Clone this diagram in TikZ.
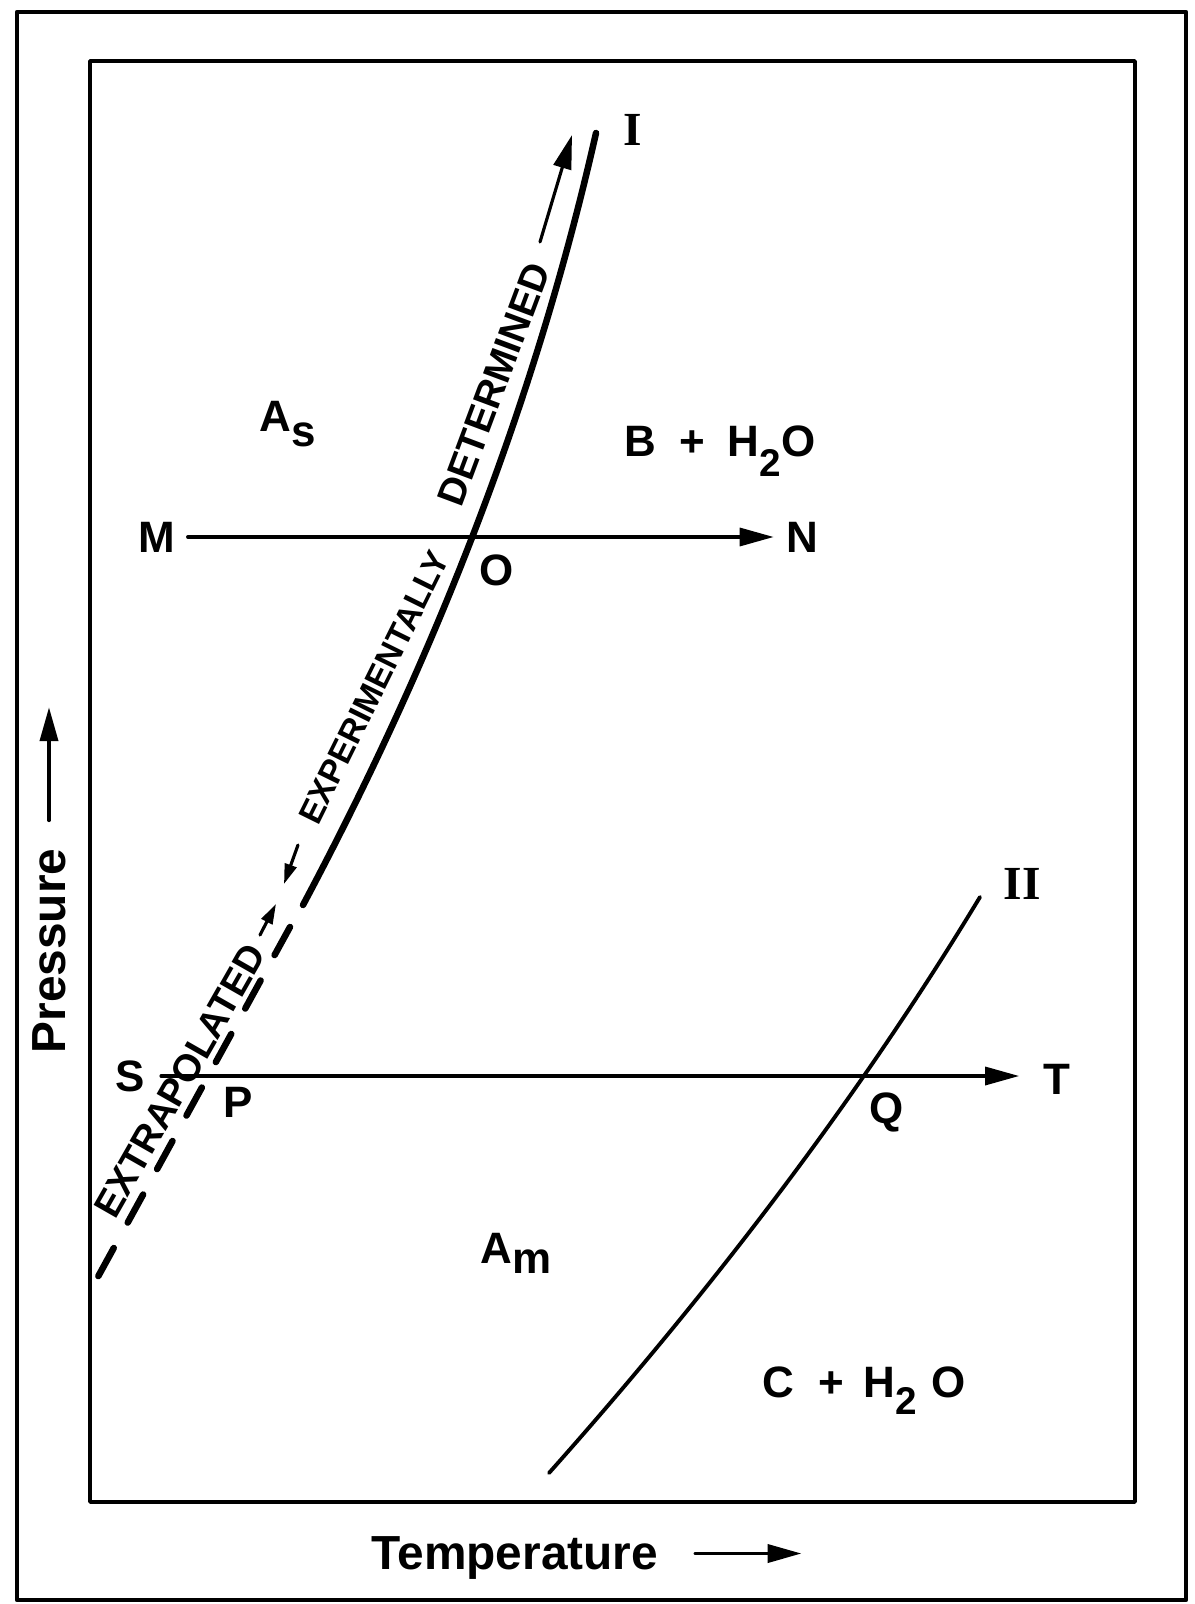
\documentclass[tikz,border=0pt]{standalone}
\usepackage{fontspec}
\setmainfont{Liberation Sans}
\newfontfamily\romanfont{Liberation Serif}
\usetikzlibrary{arrows.meta}
\newcommand{\lowered}[2][4pt]{\raisebox{-#1}{#2}}

\begin{document}
\begin{tikzpicture}[x=0.01cm,y=-0.01cm,line cap=round,line join=round,
  pt/.style={font=\fontsize{12.5}{15}\selectfont\bfseries},
  roman/.style={font=\fontsize{13.5}{16}\selectfont\romanfont\bfseries},
  axis label/.style={font=\fontsize{13.6}{16}\selectfont\bfseries},
  curve text/.style={inner sep=0pt},
  bigtip/.style={-{Triangle[length=0.34cm,width=0.18cm]}},
  smalltip/.style={-{Triangle[length=0.2cm,width=0.12cm]}},
  boundary/.style={line width=1.85pt},
  path line/.style={line width=0.95pt}]
  \useasboundingbox (0,0) rectangle (1194,1604);
  \draw[line width=1.3pt] (17,12) rectangle (1186,1600);
  \draw[line width=1pt] (90,61) rectangle (1135,1502);
  \node[pt] (M) at (157,537) {M};
  \node[pt] (N) at (802,537) {N};
  \node[pt] (O) at (497,570) {O};
  \node[pt] (S) at (130,1076) {S};
  \node[pt] (P) at (238,1102) {P};
  \node[pt] (T) at (1057,1079) {T};
  \node[pt] (Q) at (887,1112) {Q};
  \node[roman] (I) at (633,130) {I};
  \node[roman] (II) at (1022,884) {II};
  \node[pt,anchor=base] (As) at (288,432) {A\lowered{s}};
  \node[pt,anchor=base] (Am) at (516,1263) {A\lowered[3pt]{m}};
  \node[pt,anchor=base] (BH) at (720,457) {B\hspace{3pt} + \hspace{3pt}H\lowered[5.5pt]{\fontsize{11}{13}\selectfont 2}O};
  \node[pt,anchor=base] (CH) at (864,1397) {C\hspace{7pt}+\hspace{2pt} H\lowered[5pt]{\fontsize{11}{13}\selectfont 2}\hspace{4pt}O};
  \draw[boundary] (596,133) .. controls (538,390) and (440,648) .. (303,905);
  \draw[boundary,dash pattern=on 0.32cm off 0.29cm] (290,927) -- (94,1284);
  \draw[line width=1.1pt] (980,897) .. controls (864,1089) and (720,1281) .. (549,1473);
  \draw[path line,bigtip] (M) -- (N);
  \draw[path line,bigtip,shorten <=0.4mm,shorten >=1.2mm] (S.east) -- (S.east -| T.west);
  \node[curve text,font=\fontsize{11}{13}\selectfont\bfseries,rotate=69.5] (det) at (494,384) {DETERMINED};
  \node[curve text,font=\fontsize{9.5}{11}\selectfont\bfseries,rotate=63.7] (exp) at (374,687) {EXPERIMENTALLY};
  \node[curve text,font=\fontsize{10.8}{13}\selectfont\bfseries,rotate=60.3] (ext) at (180,1081) {EXTRAPOLATED};
  \coordinate (detA) at (540,242);
  \coordinate (detB) at (572,135);
  \coordinate (expA) at (298,845);
  \coordinate (expB) at (284,884);
  \coordinate (extA) at (260,935);
  \coordinate (extB) at (276,904);
  \draw[line width=0.9pt,bigtip] (detA) -- (detB);
  \draw[line width=0.9pt,smalltip] (expA) -- (expB);
  \draw[line width=0.9pt,smalltip] (extA) -- (extB);
  \node[axis label,rotate=90] (pres) at (49,951) {Pressure};
  \node[axis label,anchor=base] (temp) at (515,1569) {Temperature};
  \draw[line width=1.1pt,bigtip] ([yshift=1.6mm]pres.east) -- ++(0,-113);
  \draw[line width=1.1pt,bigtip] ([xshift=2.5mm,yshift=0.4mm]temp.east) -- ++(106,0);
\end{tikzpicture}
\end{document}
